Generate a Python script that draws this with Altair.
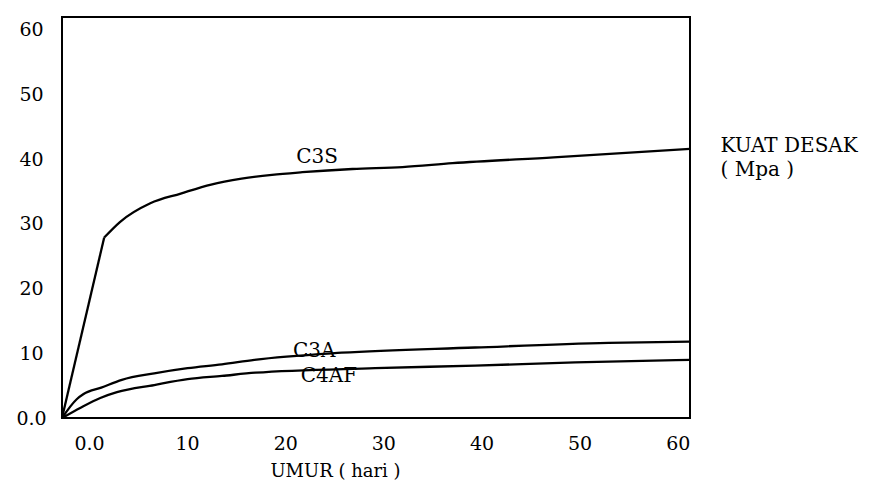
import altair as alt
import pandas as pd

# --- data (umur in hari, kuat desak in MPa) ---
c3s_x = [0, 4.3, 5.9, 9.0, 12.1, 15.2, 18.3, 21.4, 24.5, 29.6, 34.7, 39.8, 50.1, 64.0]
c3s_y = [0, 27.9, 30.3, 33.2, 34.7, 36.1, 37.0, 37.6, 38.0, 38.5, 38.8, 39.4, 40.3, 41.6]

c3a_x = [0, 1.5, 2.2, 4.0, 6.1, 9.4, 12.8, 16.3, 19.6, 28.5, 42.1, 55.7, 64.0]
c3a_y = [0, 2.9, 3.7, 4.7, 5.9, 6.9, 7.7, 8.3, 9.0, 10.1, 10.9, 11.6, 11.8]

c4af_x = [0, 1.9, 3.9, 5.6, 9.4, 12.8, 16.3, 19.7, 31.9, 42.1, 52.3, 64.0]
c4af_y = [0, 1.6, 3.1, 4.0, 5.1, 6.0, 6.5, 7.0, 7.7, 8.1, 8.6, 9.0]

label_names = ["C3S", "C3A", "C4AF"]
label_x = [26.0, 25.7, 27.2]
label_y = [40.4, 10.4, 6.5]

x_ticks = [0, 10, 20, 30, 40, 50, 60]
y_ticks = [0, 10, 20, 30, 40, 50, 60]

rows = []
for name, xs, ys in [("C3S", c3s_x, c3s_y), ("C3A", c3a_x, c3a_y), ("C4AF", c4af_x, c4af_y)]:
    for xv, yv in zip(xs, ys):
        rows.append({"senyawa": name, "umur": xv, "kuat": yv})
df = pd.DataFrame(rows)
labels = pd.DataFrame({"senyawa": label_names, "umur": label_x, "kuat": label_y})

FONT = "DejaVu Serif"

xscale = alt.Scale(domain=[0, 64], nice=False, zero=False)
yscale = alt.Scale(domain=[0, 62], nice=False, zero=False)

x_axis = alt.Axis(
    values=x_ticks, labelExpr="datum.value == 0 ? '0.0' : datum.label",
    grid=False, ticks=False, domain=False, labelOffset=27,
    labelPadding=25, labelBaseline="middle", labelFont=FONT, labelFontSize=19,
    labelColor="black", labelFlush=False,
    title="UMUR ( hari )", titleFont=FONT, titleFontSize=18, titleFontWeight="normal",
    titleColor="black", titleX=273, titleY=53, titleAlign="center", titleBaseline="middle",
)
y_axis = alt.Axis(
    values=y_ticks, labelExpr="datum.value == 0 ? '0.0' : datum.label",
    grid=False, ticks=False, domain=False, labelAlign="center", labelPadding=31,
    labelBaseline="middle", labelFont=FONT, labelFontSize=19, labelColor="black",
    labelFlush=False,
    title=["KUAT DESAK", "( Mpa )"], titleFont=FONT, titleFontSize=20,
    titleFontWeight="normal", titleColor="black", titleAngle=0, titleAlign="left",
    titleBaseline="top", titleX=658, titleY=118, titleLineHeight=24,
)

c3s_df = df[df.senyawa == "C3S"]
kink = c3s_x[1]
c3s_rise = c3s_df[c3s_df.umur <= kink]
c3s_rest = c3s_df[c3s_df.umur >= kink]
other_df = df[df.senyawa != "C3S"]

enc = dict(
    x=alt.X("umur:Q", scale=xscale, axis=x_axis),
    y=alt.Y("kuat:Q", scale=yscale, axis=y_axis),
    detail="senyawa:N",
)

line_rise = alt.Chart(c3s_rise).mark_line(color="black", strokeWidth=2.3, interpolate="linear").encode(**enc)
line_rest = alt.Chart(c3s_rest).mark_line(color="black", strokeWidth=2.3, interpolate="monotone").encode(**enc)
line_other = alt.Chart(other_df).mark_line(color="black", strokeWidth=2.3, interpolate="monotone").encode(**enc)

texts = alt.Chart(labels).mark_text(font=FONT, fontSize=20, color="black").encode(
    x=alt.X("umur:Q", scale=xscale),
    y=alt.Y("kuat:Q", scale=yscale),
    text="senyawa:N",
)

chart = alt.layer(line_rise, line_rest, line_other, texts).properties(
    width=628, height=401,
    autosize=alt.AutoSizeParams(type="none"),
    padding={"left": 54, "top": 9, "right": 194, "bottom": 63},
    background="white",
).configure_view(stroke="black", strokeWidth=2)

chart.save("out.html", embed_options={"renderer": "svg", "actions": False})
